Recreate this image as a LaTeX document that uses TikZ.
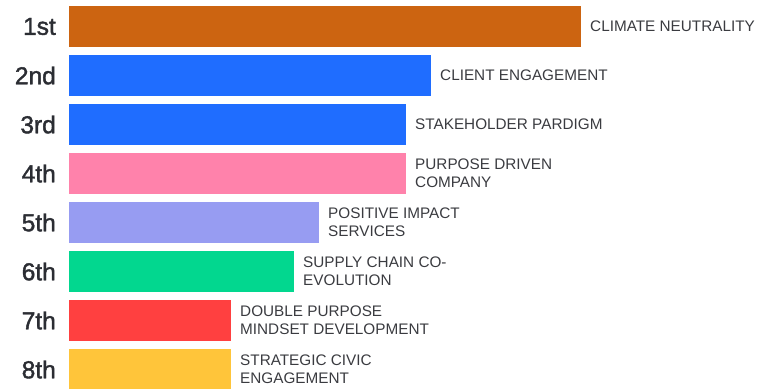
\documentclass[tikz,border=0pt]{standalone}
\usepackage{fontspec}
\setmainfont{Liberation Sans}
\newfontfamily\rankfont[FakeBold=1.6]{Liberation Sans}
\usetikzlibrary{positioning}
\usepackage{xcolor}

\definecolor{rustorange}{HTML}{CC6411}
\definecolor{brightblue}{HTML}{1F6DFF}
\definecolor{softpink}{HTML}{FF82AB}
\definecolor{lavender}{HTML}{979CF2}
\definecolor{mintgreen}{HTML}{02D78F}
\definecolor{brightred}{HTML}{FF4040}
\definecolor{sunyellow}{HTML}{FFC53A}
\definecolor{rankgray}{HTML}{2B2D33}
\definecolor{labelgray}{HTML}{3A3B40}

\begin{document}
\begin{tikzpicture}[
    x=1pt, y=1pt,
    bar/.style={rectangle, inner sep=0pt, outer sep=0pt, minimum height=41pt},
    rank/.style={inner sep=0pt, text=rankgray, font=\rankfont\fontsize{24.5}{28}\selectfont},
    barlabel/.style={inner sep=0pt, align=left, text=labelgray, font=\fontsize{15.3}{18}\selectfont}
]
\useasboundingbox (0,0) rectangle (759,-388);

\node[bar, fill=rustorange, minimum width=512pt, anchor=north west] (climate) at (69,-6) {};
\node[bar, fill=brightblue, minimum width=362pt, below=8pt of climate.south west, anchor=north west] (client) {};
\node[bar, fill=brightblue, minimum width=337pt, below=8pt of client.south west, anchor=north west] (stakeholder) {};
\node[bar, fill=softpink, minimum width=337pt, below=8pt of stakeholder.south west, anchor=north west] (purpose) {};
\node[bar, fill=lavender, minimum width=250pt, below=8pt of purpose.south west, anchor=north west] (impact) {};
\node[bar, fill=mintgreen, minimum width=225pt, below=8pt of impact.south west, anchor=north west] (supply) {};
\node[bar, fill=brightred, minimum width=162pt, below=8pt of supply.south west, anchor=north west] (mindset) {};
\node[bar, fill=sunyellow, minimum width=162pt, below=8pt of mindset.south west, anchor=north west] (civic) {};

% ranks
\node[rank, left=13pt of climate] (r1) {1st};
\node[rank, left=13pt of client] (r2) {2nd};
\node[rank, left=13pt of stakeholder] (r3) {3rd};
\node[rank, left=13pt of purpose] (r4) {4th};
\node[rank, left=13pt of impact] (r5) {5th};
\node[rank, left=13pt of supply] (r6) {6th};
\node[rank, left=13pt of mindset] (r7) {7th};
\node[rank, left=13pt of civic] (r8) {8th};

% labels
\node[barlabel, right=9pt of climate] (l1) {CLIMATE NEUTRALITY};
\node[barlabel, right=9pt of client] (l2) {CLIENT ENGAGEMENT};
\node[barlabel, right=9pt of stakeholder] (l3) {STAKEHOLDER PARDIGM};
\node[barlabel, right=9pt of purpose] (l4) {PURPOSE DRIVEN\\COMPANY};
\node[barlabel, right=9pt of impact] (l5) {POSITIVE IMPACT\\SERVICES};
\node[barlabel, right=9pt of supply] (l6) {SUPPLY CHAIN CO-\\EVOLUTION};
\node[barlabel, right=9pt of mindset] (l7) {DOUBLE PURPOSE\\MINDSET DEVELOPMENT};
\node[barlabel, right=9pt of civic] (l8) {STRATEGIC CIVIC\\ENGAGEMENT};
\end{tikzpicture}
\end{document}
